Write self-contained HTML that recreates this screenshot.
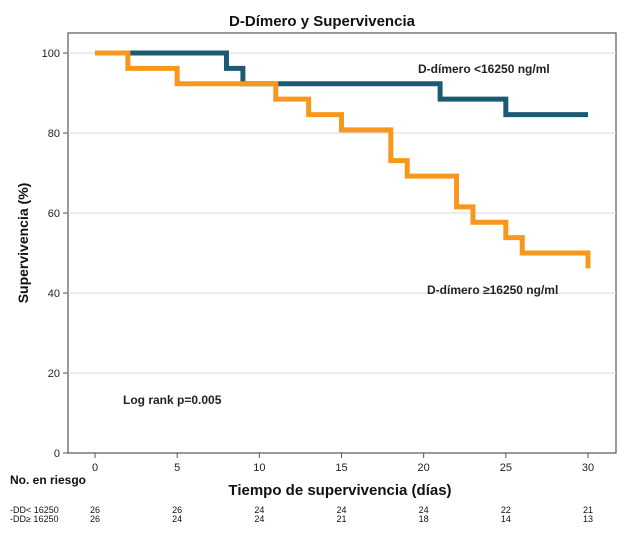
<!DOCTYPE html>
<html><head><meta charset="utf-8"><style>
body{margin:0;background:#fff;}
svg{font-family:"Liberation Sans",sans-serif;}
</style></head><body>
<svg width="625" height="540" viewBox="0 0 625 540">
<text x="322" y="26" font-size="15" font-weight="bold" text-anchor="middle" fill="#111">D-Dímero y Supervivencia</text>
<rect x="68" y="33" width="548" height="420" fill="none" stroke="#555" stroke-width="1.2"/>
<g id="grid"></g><g id="axes"></g><g id="series"></g>
<text x="418" y="73" font-size="12" font-weight="bold" fill="#222">D-dímero &lt;16250  ng/ml</text>
<text x="427" y="294" font-size="12" font-weight="bold" fill="#222">D-dímero ≥16250 ng/ml</text>
<text x="123" y="404" font-size="12" font-weight="bold" fill="#222">Log rank p=0.005</text>
<text x="28" y="243" font-size="14" font-weight="bold" fill="#111" text-anchor="middle" transform="rotate(-90 28 243)">Supervivencia (%)</text>
<text x="340" y="495" font-size="15" font-weight="bold" fill="#111" text-anchor="middle">Tiempo de supervivencia (días)</text>
<text x="10" y="484" font-size="12" font-weight="bold" fill="#111">No. en riesgo</text>
<text x="10" y="513" font-size="9" fill="#111">-DD&lt; 16250</text>
<text x="10" y="522" font-size="9" fill="#111">-DD≥ 16250</text>
<g id="risk"></g>
</svg>
<script>
const xTicks=[0,5,10,15,20,25,30];
const yTicks=[0,20,40,60,80,100];
const lowTimes=[0,8,9,21,25,30];
const lowSurv=[100,96.15,92.3,88.46,84.6,84.6];
const highTimes=[0,2,5,11,13,15,18,19,22,23,25,26,30];
const highSurv=[100,96.15,92.3,88.46,84.6,80.77,73.08,69.23,61.54,57.69,53.85,50,46.15];
const riskTimes=[0,5,10,15,20,25,30];
const riskLow=[26,26,24,24,24,22,21];
const riskHigh=[26,24,24,21,18,14,13];
const NS='http://www.w3.org/2000/svg';
const X=t=>95+t*(588-95)/30, Y=v=>453-v*4;
function mk(tag,at,parent){const e=document.createElementNS(NS,tag);for(const k in at)e.setAttribute(k,at[k]);document.getElementById(parent).appendChild(e);return e;}
yTicks.forEach(v=>{
 if(v>0){const g=mk('line',{x1:68,x2:616,y1:Y(v),y2:Y(v),stroke:'#d8d8d8','stroke-width':1},'grid');
 
 }
 const tk=mk('line',{x1:63,x2:68,y1:Y(v),y2:Y(v),stroke:'#555'},'axes');
 
 
 const t=mk('text',{x:60,y:Y(v)+4,'font-size':11,'text-anchor':'end',fill:'#222'},'axes');t.textContent=v;
 
 
});
xTicks.forEach(v=>{
 const tk=mk('line',{x1:X(v),x2:X(v),y1:453,y2:458,stroke:'#555'},'axes');
 
 
 const t=mk('text',{x:X(v),y:471,'font-size':11,'text-anchor':'middle',fill:'#222'},'axes');t.textContent=v;
 
 
});
function step(ts,ss){let d='M'+X(ts[0])+' '+Y(ss[0]);for(let i=1;i<ts.length;i++){d+=' H'+X(ts[i])+' V'+Y(ss[i]);}return d;}
const l=mk('path',{d:step(lowTimes,lowSurv).replace(/^M[\d.]+ [\d.]+ H([\d.]+)/,(m,a)=>'M'+X(2)+' '+Y(100)+' H'+a),fill:'none',stroke:'#1c5a73','stroke-width':5},'series');


const h=mk('path',{d:step(highTimes,highSurv),fill:'none',stroke:'#f7981d','stroke-width':5},'series');


riskTimes.forEach((t,i)=>{
 const a=mk('text',{x:X(t),y:513,'font-size':9,'text-anchor':'middle',fill:'#111'},'risk');a.textContent=riskLow[i];
 
 
 const b=mk('text',{x:X(t),y:522,'font-size':9,'text-anchor':'middle',fill:'#111'},'risk');b.textContent=riskHigh[i];
 
 
});
</script>
</body></html>
